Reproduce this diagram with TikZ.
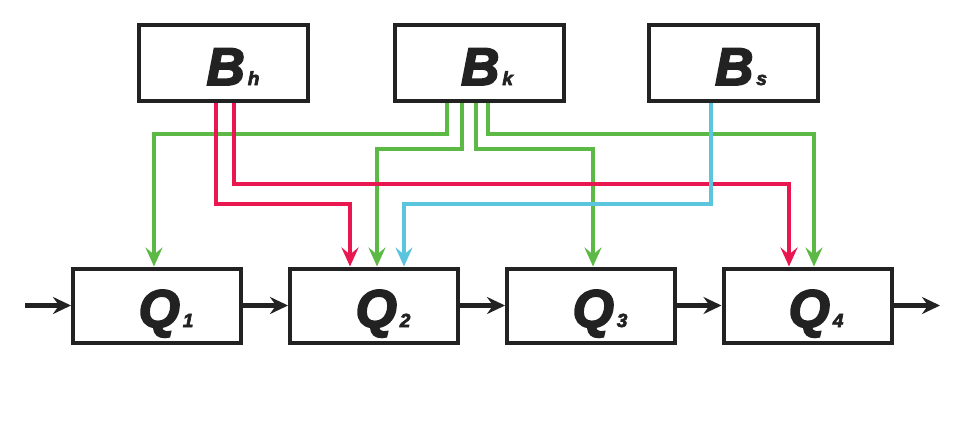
\documentclass[tikz,border=0pt]{standalone}
\usepackage{fontspec}
\setmainfont{Liberation Sans}
\newfontfamily\heavyfont[FakeBold=3.5]{Liberation Sans}
\usetikzlibrary{arrows.meta}
\definecolor{cred}{HTML}{E8174F}
\definecolor{cgreen}{HTML}{5DB946}
\definecolor{cblue}{HTML}{5BC5DE}
\definecolor{cblack}{HTML}{222222}
\newcommand{\biglab}[2]{{\heavyfont\fontsize{53}{53}\selectfont\bfseries\itshape #1}\hspace{3pt}{\heavyfont\fontsize{19}{19}\selectfont\bfseries\itshape #2}}
\begin{document}
\begin{tikzpicture}[x=1pt,y=-1pt,
  blk/.style={draw=cblack,line width=4pt,minimum width=169pt,minimum height=76pt,inner sep=0pt},
  qblk/.style={draw=cblack,line width=4pt,minimum width=168pt,minimum height=74pt,inner sep=0pt},
  lab/.style={anchor=base,inner sep=0pt,text=cblack},
  feed/.style={line width=4pt,-{Stealth[length=19pt,width=17pt,inset=7pt]}},
  flow/.style={draw=cblack,line width=4.2pt,-{Stealth[length=18pt,width=17pt,inset=6pt]}}]
\useasboundingbox (0,0) rectangle (963,423);
% top boxes
\node[blk] (Bh) at (223.5,63) {};
\node[blk] (Bk) at (479,63) {};
\node[blk] (Bs) at (733.5,63) {};
% bottom boxes
\node[qblk] (Q1) at (157,305.5) {};
\node[qblk] (Q2) at (374,305.5) {};
\node[qblk] (Q3) at (591,305.5) {};
\node[qblk] (Q4) at (807.5,305.5) {};
% labels
\node[lab] (lBh) at (233,85) {\biglab{B}{h}};
\node[lab] (lBk) at (487,85) {\biglab{B}{k}};
\node[lab] (lBs) at (741,85) {\biglab{B}{s}};
\node[lab] (lQ1) at (166,327) {\biglab{Q}{1}};
\node[lab] (lQ2) at (383,327) {\biglab{Q}{2}};
\node[lab] (lQ3) at (600,327) {\biglab{Q}{3}};
\node[lab] (lQ4) at (816,327) {\biglab{Q}{4}};
% green connectors from Bk
\draw[feed,cgreen] ([xshift=-32pt]Bk.south) -- ++(0,31) -| ([xshift=-3pt]Q1.north);
\draw[feed,cgreen] ([xshift=-17pt]Bk.south) -- ++(0,46) -| ([xshift=3pt]Q2.north);
\draw[feed,cgreen] ([xshift=-3pt]Bk.south) -- ++(0,46) -| ([xshift=2pt]Q3.north);
\draw[feed,cgreen] ([xshift=9pt]Bk.south) -- ++(0,31) -| ([xshift=6.5pt]Q4.north);
% red connectors from Bh
\draw[feed,cred] ([xshift=-7.5pt]Bh.south) -- ++(0,101) -| ([xshift=-24pt]Q2.north);
\draw[feed,cred] ([xshift=10.5pt]Bh.south) -- ++(0,81) -| ([xshift=-18.5pt]Q4.north);
% blue connector from Bs
\draw[feed,cblue] ([xshift=-22.5pt]Bs.south) -- ++(0,101) -| ([xshift=30pt]Q2.north);
% flow arrows
\coordinate (in) at (25,305.5);
\coordinate (out) at (940,305.5);
\draw[flow] (in) -- (Q1.west);
\draw[flow] (Q1.east) -- (Q2.west);
\draw[flow] (Q2.east) -- (Q3.west);
\draw[flow] (Q3.east) -- (Q4.west);
\draw[flow] (Q4.east) -- (out);
\end{tikzpicture}
\end{document}
